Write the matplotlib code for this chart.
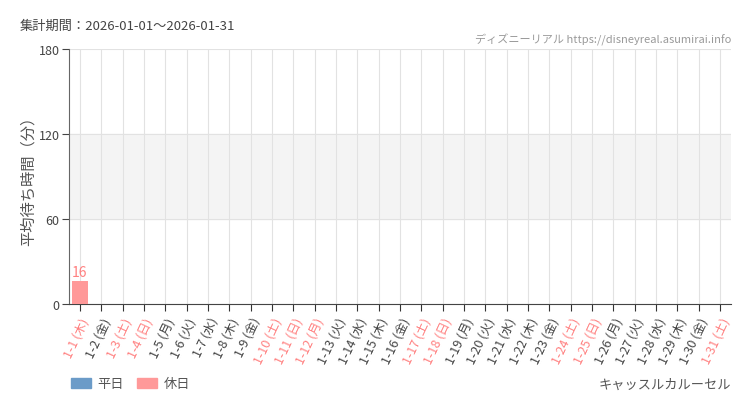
import matplotlib
matplotlib.use("Agg")
import matplotlib.pyplot as plt
from matplotlib.patches import Patch

plt.rcParams["font.family"] = ["Noto Sans CJK JP", "DejaVu Sans"]

days = [f"1-{d}" for d in range(1, 32)]
weekdays = ["木", "金", "土", "日", "月", "火", "水",
            "木", "金", "土", "日", "月", "火", "水",
            "木", "金", "土", "日", "月", "火", "水",
            "木", "金", "土", "日", "月", "火", "水",
            "木", "金", "土"]
holidays = ["1-1", "1-3", "1-4", "1-10", "1-11", "1-12",
            "1-17", "1-18", "1-24", "1-25", "1-31"]
waits = [16] + [None] * 30

blue = "#6b9bc8"
pink = "#ff9999"
pink_text = "#ff8080"
gray_text = "#555555"

fig = plt.figure(figsize=(7.5, 4.1), dpi=100)
ax = fig.add_axes([69.3 / 750, 105 / 410, 661.4 / 750, 255 / 410])

x = list(range(len(days)))
for i, d in enumerate(days):
    v = waits[i]
    if v is None:
        continue
    c = pink if d in holidays else blue
    ax.bar(i, v, width=0.75, color=c, zorder=3)
    ax.text(i, v + 1.5, str(v), ha="center", va="bottom", fontsize=10,
            color=pink_text if d in holidays else blue, zorder=4)

ax.axhspan(60, 120, color="#f4f4f4", zorder=0)
ax.set_xlim(-0.5, len(days) - 0.5)
ax.set_ylim(0, 180)
ax.set_yticks([0, 60, 120, 180])
ax.set_xticks(x)
labels = [f"{d} ({w})" for d, w in zip(days, weekdays)]
ax.set_xticklabels(labels, rotation=65, ha="right", va="top",
                   rotation_mode="anchor", fontsize=9)
for lab, d in zip(ax.get_xticklabels(), days):
    lab.set_color(pink_text if d in holidays else "#444444")

ax.grid(True, color="#e2e2e2", linewidth=0.8, zorder=1)
ax.set_axisbelow(True)
for s in ["top", "right"]:
    ax.spines[s].set_visible(False)
ax.spines["left"].set_color("#666666")
ax.spines["bottom"].set_color("#444444")
ax.tick_params(axis="y", labelsize=9, colors="#444444", length=5, pad=2)
ax.tick_params(axis="x", length=5, color="#333333", pad=3)
ax.set_ylabel("平均待ち時間（分）", fontsize=11, color=gray_text)
ax.yaxis.set_label_coords((37 - 69.3) / 661.4, 0.5)

fig.text(20 / 750, 1 - 26 / 410, "集計期間：2026-01-01～2026-01-31",
         fontsize=9.5, color="#444444", va="center", ha="left")
fig.text(731 / 750, 1 - 40 / 410,
         "ディズニーリアル https://disneyreal.asumirai.info",
         fontsize=8, color="#999999", va="center", ha="right")
fig.text(731 / 750, 1 - 385 / 410, "キャッスルカルーセル",
         fontsize=9.5, color=gray_text, va="center", ha="right")

handles = [Patch(color=blue, label="平日"), Patch(color=pink, label="休日")]
fig.legend(handles=handles, loc="center left",
           bbox_to_anchor=(59 / 750, 1 - 385 / 410), ncol=2, frameon=False,
           fontsize=9.5, handlelength=1.5, handleheight=0.8,
           handletextpad=0.5, columnspacing=1.0, labelcolor=gray_text)

fig.savefig("out.png", dpi=100, facecolor="white")
